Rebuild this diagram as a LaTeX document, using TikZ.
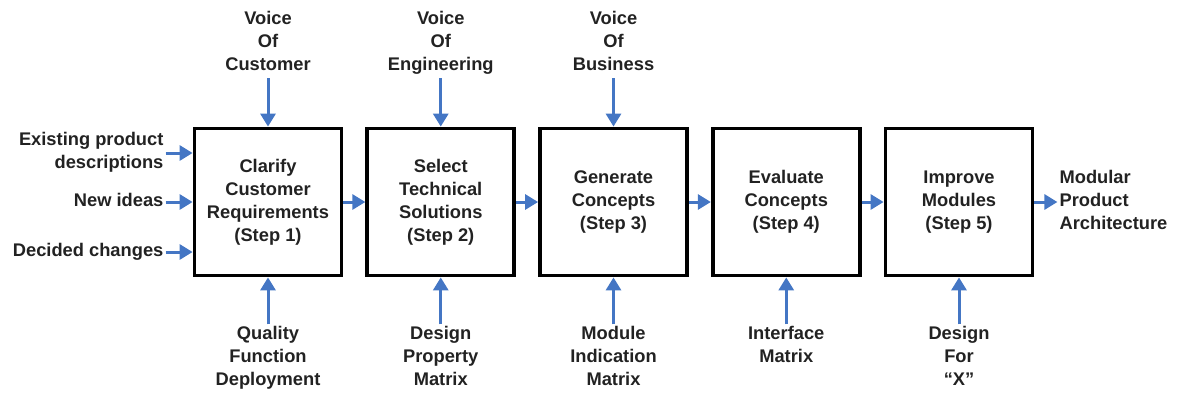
\documentclass[tikz,border=0pt]{standalone}
\usepackage{fontspec}
\setmainfont{Liberation Sans}
\usetikzlibrary{positioning, arrows.meta}
\definecolor{flowblue}{RGB}{68,118,196}
\definecolor{txtgray}{RGB}{34,34,34}
\newcommand{\boxfont}{\bfseries\fontsize{18.3}{23}\selectfont}

\begin{document}
\begin{tikzpicture}[x=1pt,y=-1pt,>={Triangle[width=15pt,length=13pt]},node distance=172.75pt,
    stepbox/.style={draw, line width=3.8pt, minimum width=147pt, minimum height=147pt, align=center, font=\boxfont, text=txtgray},
    lbl/.style={align=center, font=\boxfont, text=txtgray, inner sep=2pt, text depth=5pt},
    flow/.style={->, draw=flowblue, fill=flowblue, line width=3pt}]
      \useasboundingbox (0,0) rectangle (1178,397);

      % the five steps
      \node[stepbox] (c1) at (268,202) {Clarify\\Customer\\Requirements\\(Step 1)};
      \node[stepbox] (c2) [right of=c1] {Select\\Technical\\Solutions\\(Step 2)};
      \node[stepbox] (c3) [right of=c2] {Generate\\Concepts\\(Step 3)};
      \node[stepbox] (c4) [right of=c3] {Evaluate\\Concepts\\(Step 4)};
      \node[stepbox] (c5) [right of=c4] {Improve\\Modules\\(Step 5)};

      % inputs on the left
      \node[lbl, align=right, left=27pt of c1.west, yshift=49pt] (e1) {Existing product\\descriptions};
      \node[lbl, align=right, left=27pt of c1.west] (e2) {New ideas};
      \node[lbl, align=right, left=27pt of c1.west, yshift=-50pt] (e3) {Decided changes};

      % voices on top
      \node[lbl, above=48.5pt of c1] (v1) {Voice\\Of\\Customer};
      \node[lbl, above=48.5pt of c2] (v2) {Voice\\Of\\Engineering};
      \node[lbl, above=48.5pt of c3] (v3) {Voice\\Of\\Business};

      % tools below
      \node[lbl, below=47pt of c1] (t1) {Quality\\Function\\Deployment};
      \node[lbl, below=47pt of c2] (t2) {Design\\Property\\Matrix};
      \node[lbl, below=47pt of c3] (t3) {Module\\Indication\\Matrix};
      \node[lbl, below=47pt of c4] (t4) {Interface\\Matrix};
      \node[lbl, below=47pt of c5] (t5) {Design\\For\\``X''};

      % result
      \node[lbl, align=left, right=23pt of c5] (out) {Modular\\Product\\Architecture};

      \draw[flow] (e1.east) -- (e1.east -| c1.west);
      \draw[flow] (e2.east) -- (e2.east -| c1.west);
      \draw[flow] (e3.east) -- (e3.east -| c1.west);

      \path[flow] (c1) edge (c2)
            (c2) edge (c3)
            (c3) edge (c4)
            (c4) edge (c5)
            (c5) edge (out)
            (v1) edge (c1)
            (v2) edge (c2)
            (v3) edge (c3)
            (t1) edge (c1)
            (t2) edge (c2)
            (t3) edge (c3)
            (t4) edge (c4)
            (t5) edge (c5)
            ;
\end{tikzpicture}
\end{document}
